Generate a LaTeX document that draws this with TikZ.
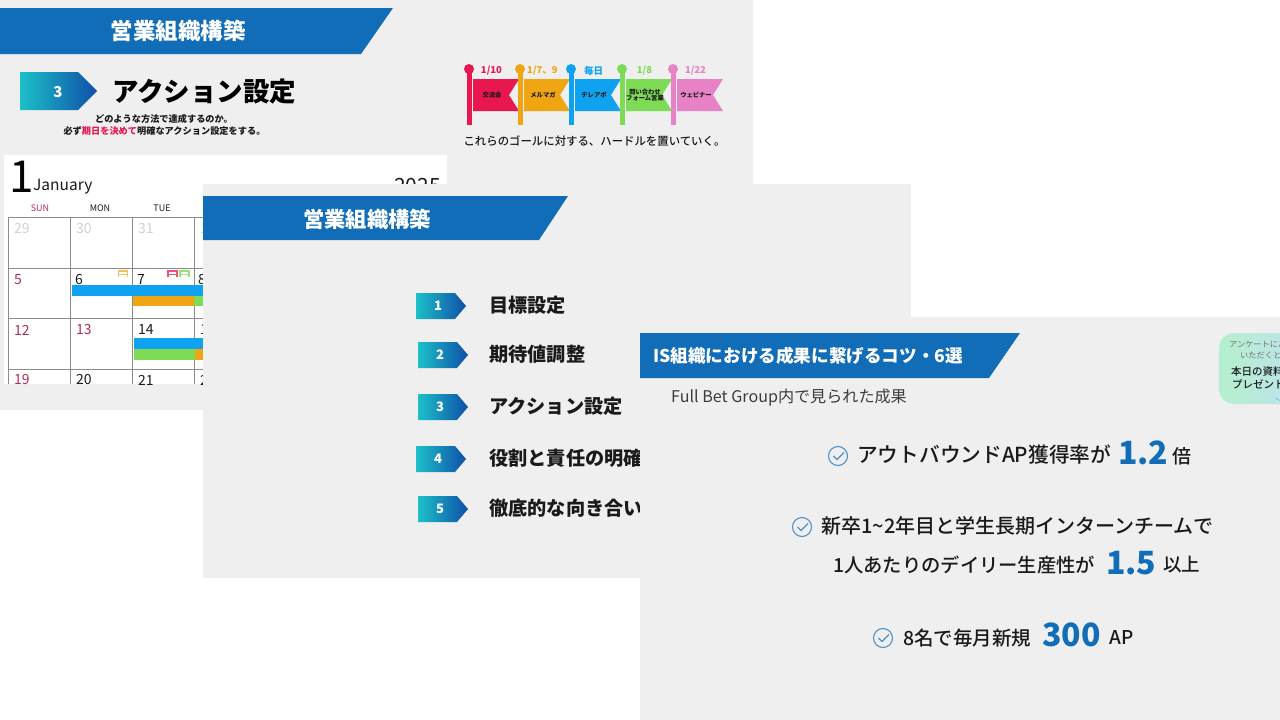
\documentclass[tikz,border=0pt]{standalone}
\usepackage{fontspec}
\setmainfont{Noto Sans CJK JP}
\newfontfamily\jpmed{Noto Sans CJK JP Medium}
\newcommand{\fsz}[1]{\fontsize{#1}{#1}\selectfont}
\definecolor{slidebg}{HTML}{EFEFEF}
\definecolor{bannerblue}{HTML}{126DB8}
\definecolor{tealstart}{HTML}{1CC0C8}
\definecolor{blueend}{HTML}{0F4FA8}
\definecolor{inkdark}{HTML}{1A1A1A}
\definecolor{crimson}{HTML}{E8174F}
\definecolor{amber}{HTML}{F0A513}
\definecolor{skyblue}{HTML}{0EA2F0}
\definecolor{leaf}{HTML}{7DDB55}
\definecolor{pinkish}{HTML}{E682C5}
\definecolor{sunred}{HTML}{B03050}
\definecolor{gridgray}{HTML}{8C8C8C}
\definecolor{oldgray}{HTML}{D2D2D2}
\definecolor{popmint}{HTML}{B4F0CE}
\definecolor{popsky}{HTML}{BFE2EC}
\tikzset{
  slide/.style={fill=slidebg,draw=none},
  banner/.style={fill=bannerblue,draw=none},
  bannertext/.style={text=white,font={\fsz{#1}\bfseries},inner sep=0pt},
  stepfill/.style={left color=tealstart,right color=blueend,draw=none},
  stepnum/.style={text=white,font={\fsz{#1}\bfseries},inner sep=0pt},
  steptext/.style={text=inkdark,font={\fsz{19.2}\bfseries},anchor=west,inner sep=0pt},
  smalltext/.style={text=inkdark,font={\fsz{9.2}\bfseries},inner sep=0pt},
  flagdate/.style={font={\fsz{9.5}\bfseries},inner sep=0pt},
  flagtext/.style={text=inkdark,font={\fsz{6.3}\bfseries},inner sep=0pt,align=center},
  daynum/.style={font={\fsz{14}},anchor=west,inner sep=0pt},
  dayname/.style={font={\fsz{9}},inner sep=0pt},
  resulttext/.style={text=inkdark,font={\fsz{#1}\jpmed},anchor=west,inner sep=0pt},
  bignum/.style={text=bannerblue,font={\fsz{#1}\bfseries},anchor=west,inner sep=0pt},
  okcircle/.style={circle,draw=#1,line width=1.1pt,minimum size=19pt,inner sep=0pt},
  okline/.style={draw=#1,line width=1.1pt}
}
\begin{document}
\begin{tikzpicture}[x=1pt,y=-1pt]
  \useasboundingbox (0,0) rectangle (1280,720);
  \fill[white] (0,0) rectangle (1280,720);

  \path[slide] (0,0) rectangle (753,410);
  \path[banner] (0,8) -- (393,8) -- (361,54) -- (0,54) -- cycle;
  \node[bannertext=22.5] (titleA) at (178,31) {営業組織構築};
  \path[stepfill] (20,72) -- (78,72) -- (97,91) -- (78,110) -- (20,110) -- cycle;
  \node[stepnum=15] (numA) at (58,92) {3};
  \node[text=black,font={\fsz{26.5}\bfseries},anchor=west,inner sep=0pt] (headA) at (112,92) {アクション設定};
  \node[smalltext] (subA) at (164,119) {どのような方法で達成するのか。};
  \node[smalltext] (subB) at (164.5,131) {必ず\textcolor{crimson}{期日を決めて}明確なアクション設定をする。};

  \foreach \i/\c/\d/\t in {0/crimson/1\slash 10/交流会,1/amber/1\slash 7、9/メルマガ,2/skyblue/毎日/テレアポ,3/leaf/1\slash 8/問い合わせ\\フォーム営業,4/pinkish/1\slash 22/ウェビナー}{
    \begin{scope}[xshift=51*\i]
      \fill[\c] (466.5,69) rectangle (471.5,125);
      \fill[\c] (469,69) circle (5);
      \fill[\c] (473,79) -- (519,79) -- (509,95) -- (519,111) -- (473,111) -- cycle;
      \node[flagdate,text=\c] (date\i) at (491.5,71) {\d};
      \node[flagtext] (flag\i) at (492,95) {\t};
    \end{scope}
  }
  \node[text=inkdark,font={\fsz{11.4}\jpmed},inner sep=0pt] (goal) at (594.5,141) {これらのゴールに対する、ハードルを置いていく。};

  \begin{scope}
    \clip (4,155) rectangle (447,384);
    \fill[white] (4,155) rectangle (447,384);
    \node[font={\fsz{44}},anchor=west,inner sep=0pt] (month) at (9,177) {1};
    \node[font={\fsz{15.5}},text=inkdark,anchor=west,inner sep=0pt] (monthname) at (33,186.5) {January};
    \node[font={\fsz{21}},text=inkdark,anchor=east,inner sep=0pt] (year) at (441,186) {2025};
    \node[dayname,text=sunred] (sun) at (40,208) {SUN};
    \node[dayname,text=inkdark] (mon) at (100,208) {MON};
    \node[dayname,text=inkdark] (tue) at (162,208) {TUE};
    \foreach \x in {8,70,132,194} \draw[gridgray,line width=.7pt] (\x,217) -- (\x,384);
    \foreach \y in {217,268,318,369} \draw[gridgray,line width=.7pt] (8,\y) -- (210,\y);
    \foreach \x/\t in {14/29,76/30,138/31,200/1} \node[daynum,text=oldgray] (old\t) at (\x,229) {\t};
    \foreach \x/\t/\c in {14/5/sunred,75/6/inkdark,137/7/inkdark,198/8/inkdark} \node[daynum,text=\c] (day\t) at (\x,280) {\t};
    \foreach \x/\t/\c in {14/12/sunred,76/13/sunred,138/14/inkdark,200/15/inkdark} \node[daynum,text=\c] (day\t) at (\x,330) {\t};
    \foreach \x/\t/\c in {14/19/sunred,76/20/inkdark,138/21/inkdark,200/22/inkdark} \node[daynum,text=\c] (day\t) at (\x,380) {\t};
    \fill[skyblue] (72,285) rectangle (210,296);
    \fill[amber] (133,296) rectangle (194,306);
    \fill[leaf] (194,296) rectangle (210,306);
    \fill[skyblue] (133.5,338) rectangle (210,349);
    \fill[leaf] (133.5,349) rectangle (195,359.5);
    \fill[amber] (195,349) rectangle (210,359.5);
    \foreach \x/\c in {118.5/amber!70,168/crimson!75,180/leaf!80}
      \draw[\c,line width=1.2pt] (\x,277) -- (\x,271) -- (\x+9,271) -- (\x+9,277) (\x,274.5) -- (\x+9,274.5);
  \end{scope}

  \path[slide] (203,184) rectangle (911,578);
  \path[banner] (203,196) -- (568,196) -- (539,240) -- (203,240) -- cycle;
  \node[bannertext=21.3] (titleB) at (367,219) {営業組織構築};
  \foreach \i/\x/\y/\t in {1/416/293/目標設定,2/418/342/期待値調整,3/418/394/アクション設定,4/416/446/役割と責任の明確,5/418/496/徹底的な向き合い}{
    \path[stepfill] (\x,\y) -- ++(39,0) -- ++(11,13) -- ++(-11,13) -- ++(-39,0) -- cycle;
    \node[stepnum=13] (num\i) at (\x+22,\y+13) {\i};
    \node[steptext] (step\i) at (489,\y+12) {\t};
  }

  \path[slide] (640,317) rectangle (1280,720);
  \path[banner] (640,333) -- (1020,333) -- (989,378) -- (640,378) -- cycle;
  \node[bannertext=17.6,anchor=west] (titleC) at (653,356) {IS組織における成果に繋げるコツ・6選};
  \node[text=inkdark!85,font={\fsz{16.1}},anchor=west,inner sep=0pt] (subC) at (671,398) {Full Bet Group内で見られた成果};

  \path[left color=popmint,right color=popsky,draw=none,rounded corners=15] (1219,333) rectangle (1300,404);
  \node[text=black!55,font={\fsz{8.2}},anchor=west,inner sep=0pt] (popA) at (1229,344) {アンケートにご回};
  \node[text=black!55,font={\fsz{8.2}},anchor=west,inner sep=0pt] (popB) at (1240,355) {いただくと...};
  \node[text=inkdark,font={\fsz{10.5}\jpmed},anchor=west,inner sep=0pt] (popC) at (1231,372) {本日の資料};
  \node[text=inkdark,font={\fsz{10.5}\jpmed},anchor=west,inner sep=0pt] (popD) at (1232,384) {プレゼント};
  \coordinate (popE) at (1275,398);
  \coordinate (popF) at (1281,401);
  \draw[skyblue!70,line width=.6pt] (popE) -- (popF);

  \foreach \n/\x/\y in {okA/838/456,okB/802/527,okC/883/638}{
    \node[okcircle=bannerblue!75] (\n) at (\x,\y) {};
    \draw[okline=bannerblue!75] (\n.center) ++(-4.5,0) -- ++(3.5,3.5) -- ++(7,-7);
  }
  \node[resulttext=20.7] (lineA) at (857,455) {アウトバウンドAP獲得率が};
  \node[bignum=32] (valA) at (1118,453) {1.2};
  \node[resulttext=19] (unitA) at (1172,456) {倍};
  \node[resulttext=20] (lineB) at (821,526) {新卒1\textasciitilde 2年目と学生長期インターンチームで};
  \node[resulttext=19.3] (lineC) at (833,565) {1人あたりのデイリー生産性が};
  \node[bignum=32] (valB) at (1106,563) {1.5};
  \node[resulttext=18.5] (unitB) at (1163,565) {以上};
  \node[resulttext=19.5] (lineD) at (903,638) {8名で毎月新規};
  \node[bignum=32] (valC) at (1042,635) {300};
  \node[resulttext=19] (unitC) at (1109,637) {AP};
\end{tikzpicture}
\end{document}
